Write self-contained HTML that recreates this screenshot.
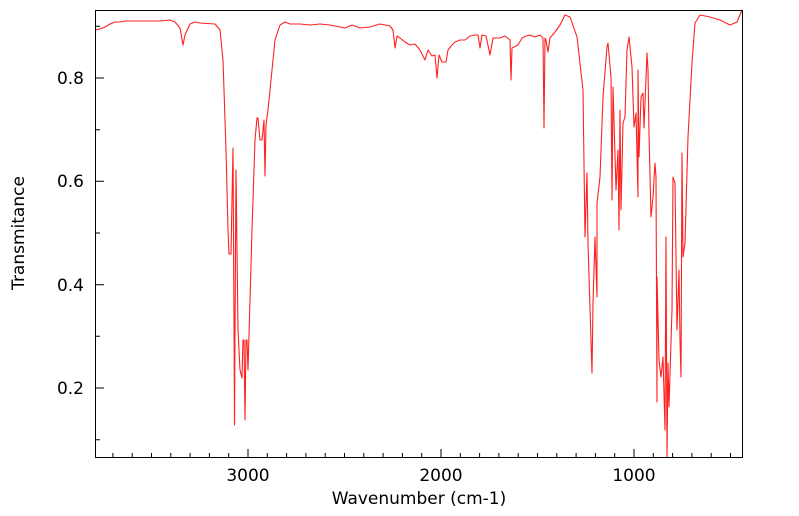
<!DOCTYPE html>
<html><head><meta charset="utf-8"><style>body{margin:0;background:#fff}svg{display:block}</style></head><body>
<svg width="799" height="516" xmlns="http://www.w3.org/2000/svg" font-family="'DejaVu Sans','Liberation Sans',sans-serif">
<rect width="799" height="516" fill="#fff"/>
<polyline fill="none" stroke="#ff2020" stroke-width="1.1" stroke-linejoin="round" points="
95,30 100,29 105,27 110,24 115,22 120,22 125,21 130,21 140,21 150,21 160,21 170,20 175,22 180,28 183,45 185,35 190,24 195,22 200,23 215,24 220,30 223,60 226,150 228,230 229,254 231,254 232,200 233,148 234,320 234.5,425 235,330 236,170 237,250 238,330 240,370 242,378 243,340 244,340 245,420 246,340 247,340 248,370 250,300 252,230 255,140 257,118 258,118 260,140 262,140 263,130 264,120 265,176 266,125 268,110 272,70 275,40 280,25 285,22 290,24 300,24 310,25 320,24 330,25 345,28 352,25 360,28 370,27 380,24 390,26 393,30 395,48 397,36 400,38 405,42 410,45 415,44 420,50 425,60 428,50 432,56 435,55 437,78 439,55 442,62 446,62 448,50 452,45 455,42 460,40 465,40 470,36 475,35 478,35 480,48 482,35 486,36 490,55 493,38 500,38 505,36 510,40 511,80 512,48 518,45 522,38 526,36 530,35 535,37 540,35 543,38 544,128 545,38 546,40 548,52 550,38 555,32 560,25 565,15 570,17 577,37 583,90 585,237 587,173 588,243 592,373 593,303 595,237 597,297 597,203 600,177 603,97 607,47 608,43 611,77 612,200 613,87 616,190 618,150 619,230 620,110 621,210 623,123 625,117 627,50 629,37 632,67 634,127 636,113 638,197 638,70 639,157 641,97 643,93 644,128 647,53 648,70 649,133 651,217 653,197 655,163 656,177 657,402 657,277 659,360 661,377 663,357 665,430 666,237 667,457 668,363 669,407 672,310 673,177 675,183 677,330 679,270 680,340 681,377 682,153 683,257 685,243 688,137 692,63 695,23 700,15 710,17 720,20 730,25 737,22 742,10"/>
<rect x="95.5" y="10.5" width="647" height="447" fill="none" stroke="#000" stroke-width="1"/>
<path stroke="#000" stroke-width="1" fill="none" d="
M112.9,457v-4 M132.2,457v-4 M151.5,457v-4 M170.8,457v-4 M190.1,457v-4 M209.4,457v-4 M228.7,457v-4 M248,457v-8 M267.3,457v-4 M286.6,457v-4 M305.9,457v-4 M325.2,457v-4 M344.5,457v-4 M363.8,457v-4 M383.1,457v-4 M402.4,457v-4 M421.7,457v-4 M441,457v-8 M460.3,457v-4 M479.6,457v-4 M498.9,457v-4 M518.2,457v-4 M537.5,457v-4 M556.8,457v-4 M576.1,457v-4 M595.4,457v-4 M614.7,457v-4 M634,457v-8 M653.3,457v-4 M672.6,457v-4 M691.9,457v-4 M711.2,457v-4 M730.5,457v-4
M96,26.3h4 M96,78h8 M96,129.7h4 M96,181.3h8 M96,233h4 M96,284.7h8 M96,336.3h4 M96,388h8 M96,439.7h4"/>
<g font-size="17" fill="#000">
<text x="248" y="481" text-anchor="middle">3000</text>
<text x="441" y="481" text-anchor="middle">2000</text>
<text x="634" y="481" text-anchor="middle">1000</text>
<text x="84" y="84" text-anchor="end">0.8</text>
<text x="84" y="187" text-anchor="end">0.6</text>
<text x="84" y="291" text-anchor="end">0.4</text>
<text x="84" y="394" text-anchor="end">0.2</text>
<text x="419" y="504" text-anchor="middle">Wavenumber (cm-1)</text>
<text transform="translate(24,233) rotate(-90)" text-anchor="middle">Transmitance</text>
</g>
</svg>
</body></html>
